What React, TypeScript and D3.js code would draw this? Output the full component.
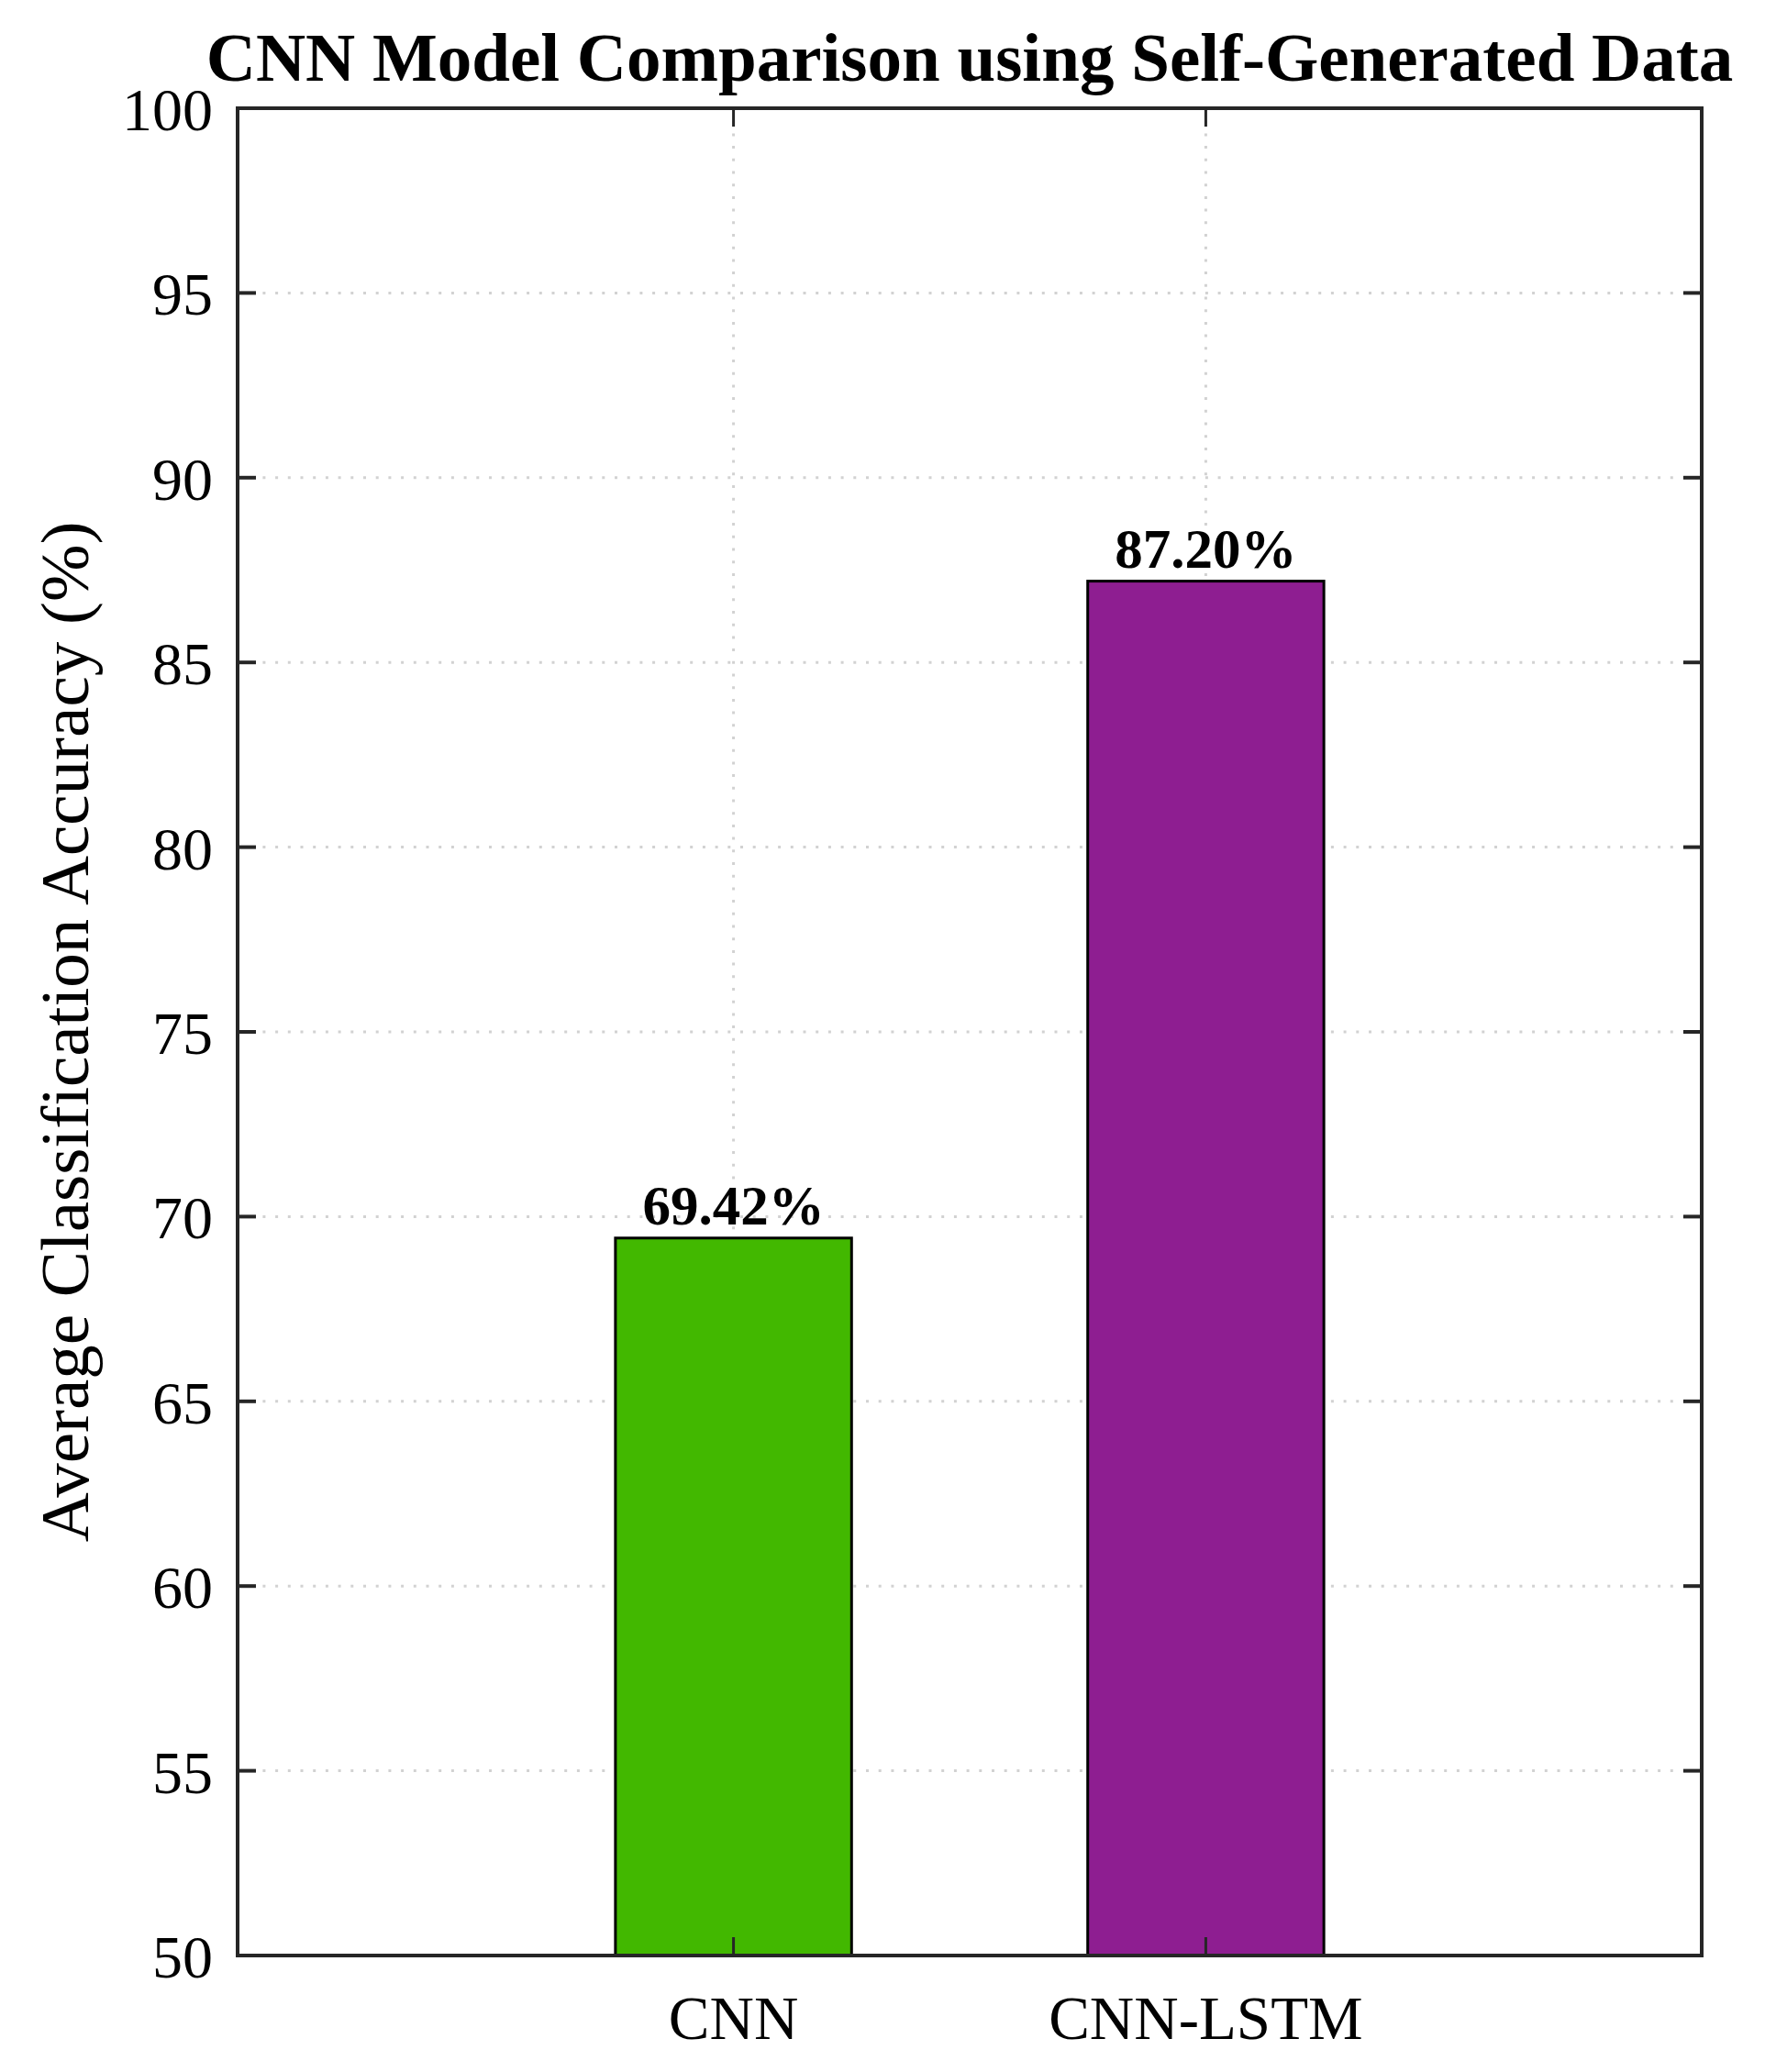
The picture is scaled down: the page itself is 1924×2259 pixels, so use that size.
import React from "react";
import * as d3 from "d3";

const categories: string[] = ["CNN", "CNN-LSTM"];
const values: number[] = [69.42, 87.2];
const valueLabels: string[] = ["69.42%", "87.20%"];
const barColors: string[] = ["#42b800", "#8e1e91"];
const yTicks: number[] = [50, 55, 60, 65, 70, 75, 80, 85, 90, 95, 100];
const title = "CNN Model Comparison using Self-Generated Data";
const yLabel = "Average Classification Accuracy (%)";

const W = 1924;
const H = 2259;
const M = { left: 259, right: 1855, top: 118, bottom: 2132 };
const FONT = "'Liberation Serif', 'Times New Roman', serif";
const AXIS = "#262626";
const GRID = "#d2d2d2";
const TICK = 20;

export default function App() {
  const x = d3.scaleLinear().domain([-0.05, 3.05]).range([M.left, M.right]);
  const y = d3.scaleLinear().domain([50, 100]).range([M.bottom, M.top]);
  const pos = categories.map((_, i) => i + 1);
  const bw = x(1.5) - x(1);
  const cx = (M.left + M.right) / 2;
  const cy = (M.top + M.bottom) / 2;

  return (
    <svg
      width={W}
      height={H}
      viewBox={`0 0 ${W} ${H}`}
      style={{ position: "absolute", left: 0, top: 0, display: "block", background: "#fff" }}
    >
      <rect x={0} y={0} width={W} height={H} fill="#fff" />
      {/* grid */}
      {yTicks
        .filter((t) => t > 50 && t < 100)
        .map((t) => (
          <line
            key={"gy" + t}
            x1={M.left}
            x2={M.right}
            y1={y(t)}
            y2={y(t)}
            stroke={GRID}
            strokeWidth={3}
            strokeDasharray="3,10.7"
          />
        ))}
      {pos.map((p) => (
        <line
          key={"gx" + p}
          x1={x(p)}
          x2={x(p)}
          y1={M.top}
          y2={M.bottom}
          stroke={GRID}
          strokeWidth={3}
          strokeDasharray="3,10.7"
        />
      ))}
      {/* bars */}
      {values.map((v, i) => (
        <rect
          key={"b" + i}
          x={x(pos[i]) - bw / 2}
          y={y(v)}
          width={bw}
          height={y(50) - y(v)}
          fill={barColors[i]}
          stroke="#000"
          strokeWidth={3}
        />
      ))}
      {/* value labels */}
      {values.map((v, i) => (
        <text
          key={"vl" + i}
          x={x(pos[i])}
          y={y(v) - 15}
          textAnchor="middle"
          fontFamily={FONT}
          fontWeight="bold"
          fontSize={61}
          fill="#000"
        >
          {valueLabels[i]}
        </text>
      ))}
      {/* axes box */}
      <rect
        x={M.left}
        y={M.top}
        width={M.right - M.left}
        height={M.bottom - M.top}
        fill="none"
        stroke={AXIS}
        strokeWidth={4}
      />
      {/* y ticks */}
      {yTicks.map((t) => (
        <g key={"yt" + t}>
          <line x1={M.left} x2={M.left + TICK} y1={y(t)} y2={y(t)} stroke={AXIS} strokeWidth={4} />
          <line x1={M.right - TICK} x2={M.right} y1={y(t)} y2={y(t)} stroke={AXIS} strokeWidth={4} />
          <text
            x={232}
            y={y(t) + 24}
            textAnchor="end"
            fontFamily={FONT}
            fontSize={66}
            fill="#000"
          >
            {t}
          </text>
        </g>
      ))}
      {/* x ticks */}
      {pos.map((p, i) => (
        <g key={"xt" + p}>
          <line x1={x(p)} x2={x(p)} y1={M.bottom} y2={M.bottom - TICK} stroke={AXIS} strokeWidth={3} />
          <line x1={x(p)} x2={x(p)} y1={M.top} y2={M.top + TICK} stroke={AXIS} strokeWidth={3} />
          <text
            x={x(p)}
            y={2223}
            textAnchor="middle"
            fontFamily={FONT}
            fontSize={67}
            fill="#000"
          >
            {categories[i]}
          </text>
        </g>
      ))}
      {/* y label */}
      <text
        transform={`translate(96, ${cy}) rotate(-90)`}
        textAnchor="middle"
        fontFamily={FONT}
        fontSize={75}
        fill="#000"
      >
        {yLabel}
      </text>
      {/* title */}
      <text
        x={cx}
        y={88}
        textAnchor="middle"
        fontFamily={FONT}
        fontWeight="bold"
        fontSize={75}
        fill="#000"
      >
        {title}
      </text>
    </svg>
  );
}
